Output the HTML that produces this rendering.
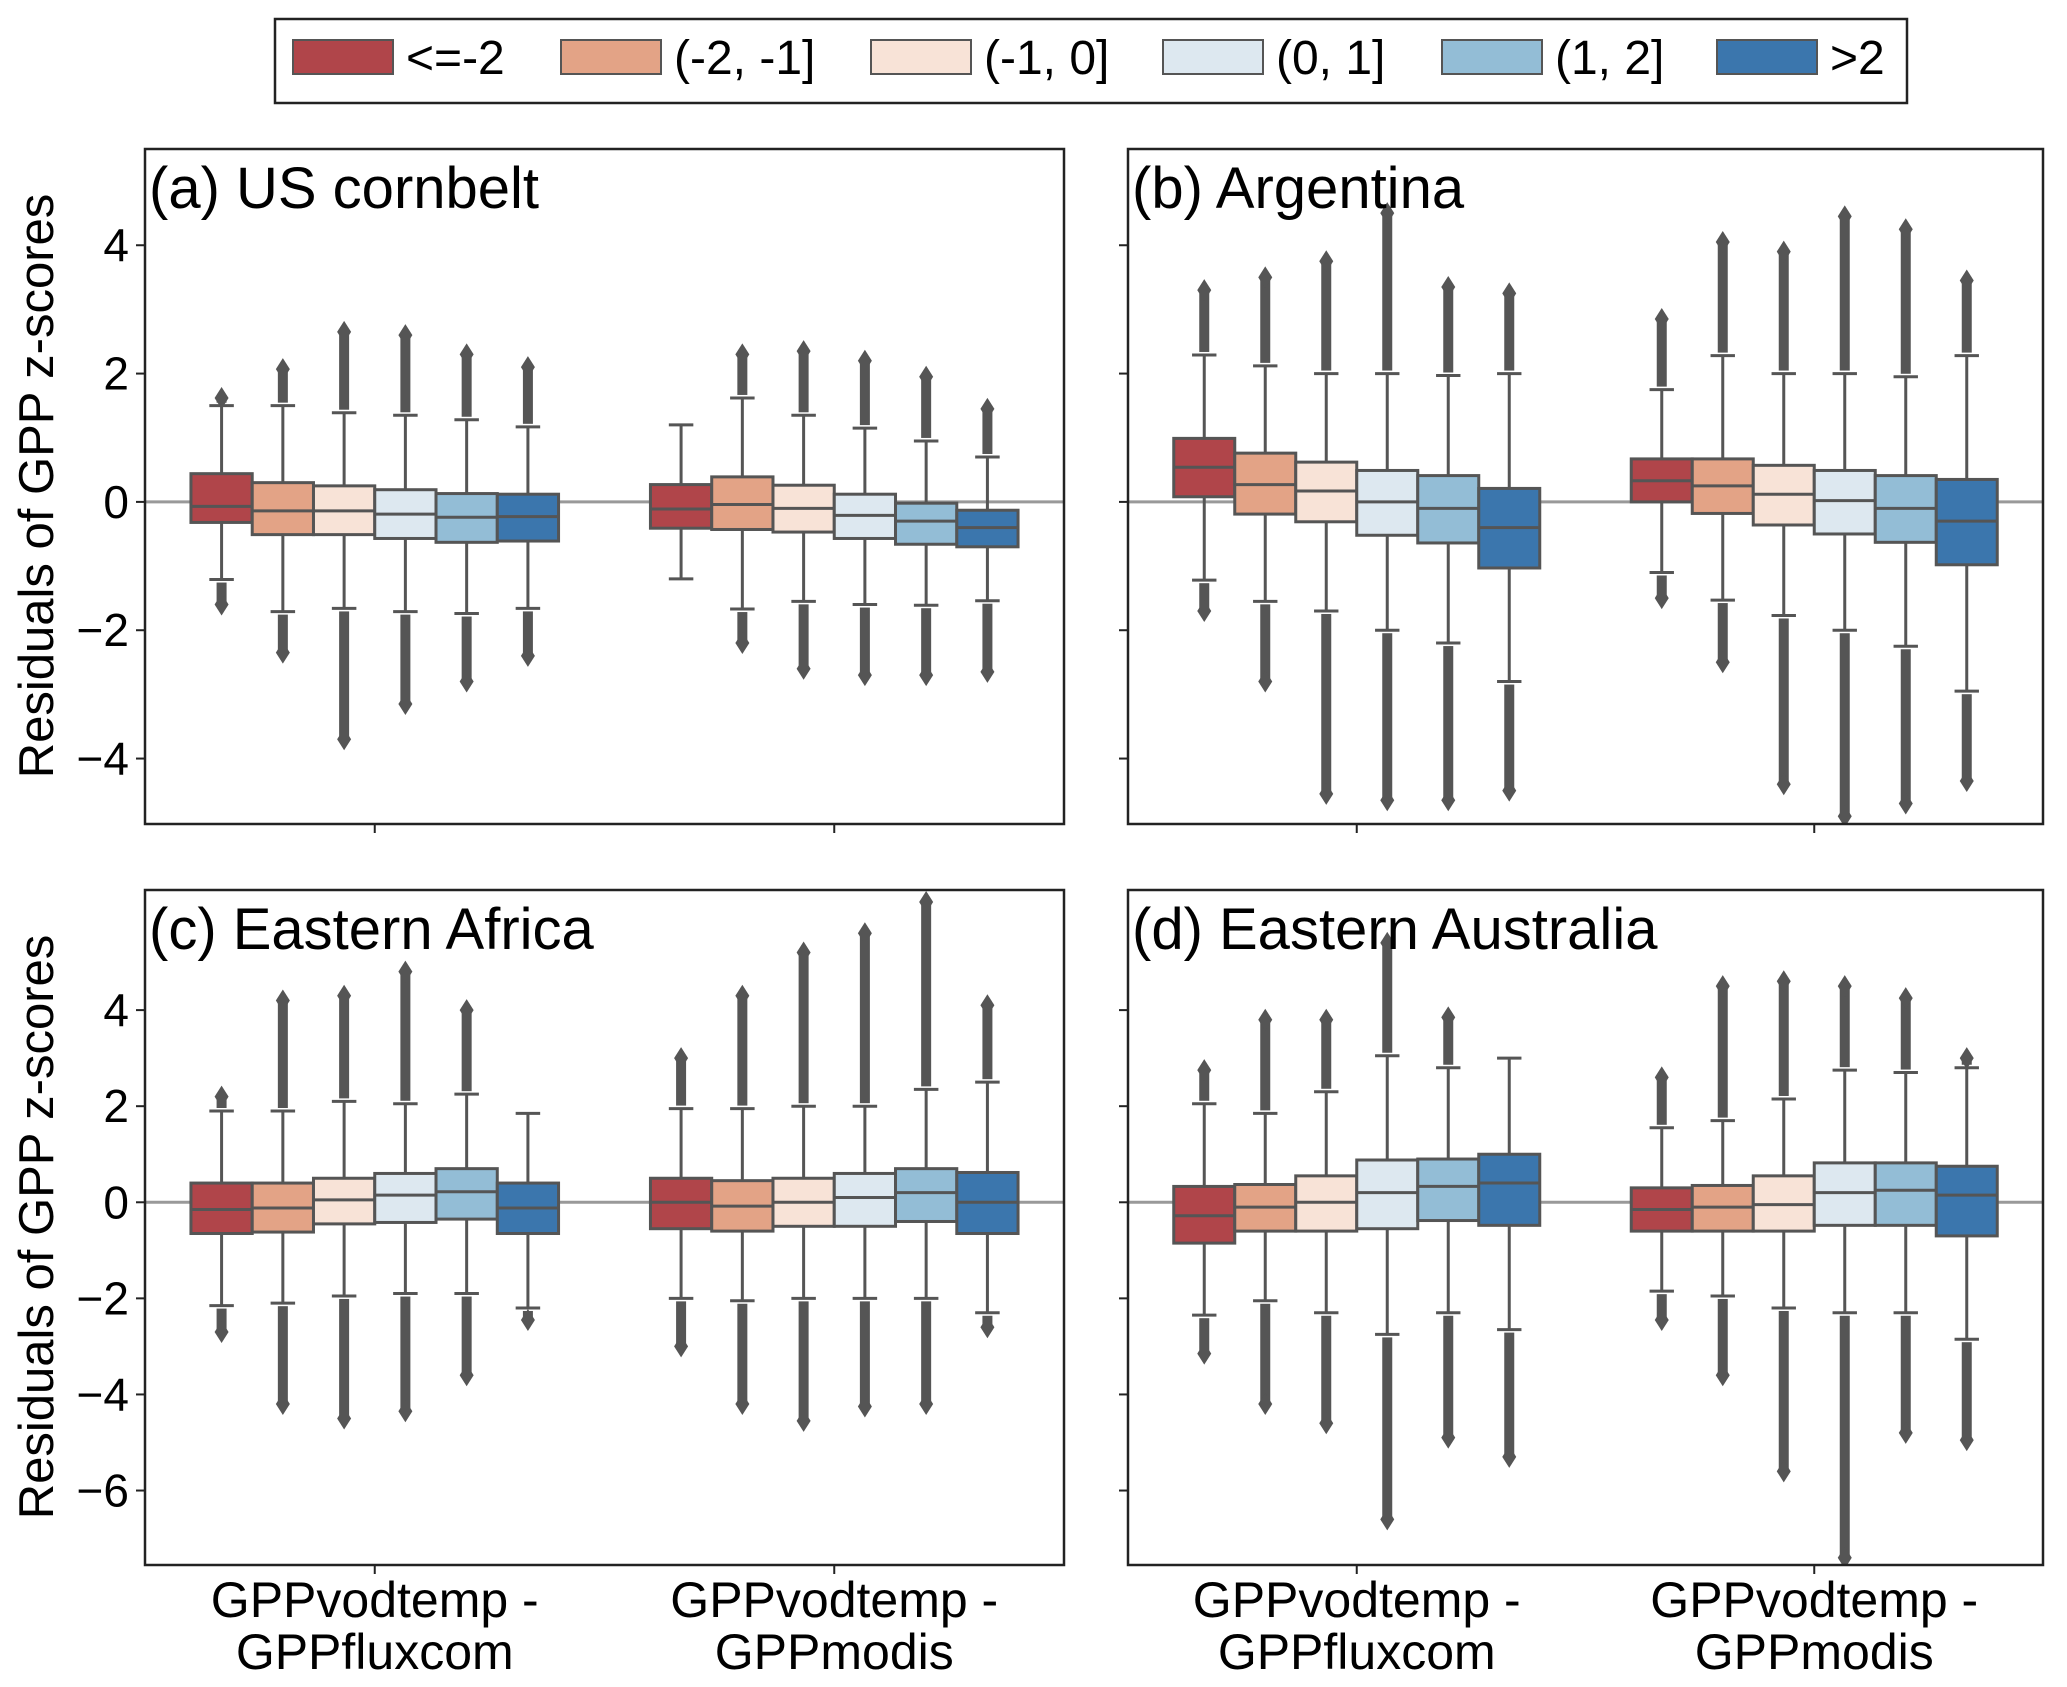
<!DOCTYPE html>
<html><head><meta charset="utf-8">
<style>
html,body{margin:0;padding:0;background:#fff;}
svg{display:block;font-family:"Liberation Sans",sans-serif;}
</style></head>
<body>
<svg id="chart" width="2067" height="1687" viewBox="0 0 2067 1687" xmlns="http://www.w3.org/2000/svg">
<g id="legend">
<rect x="275" y="19" width="1632" height="84" fill="#fff" stroke="#222" stroke-width="2.5"/>
</g>
<g id="plots"></g>
<text transform="translate(37,486) rotate(-90)" text-anchor="middle" dominant-baseline="central" font-size="49">Residuals of GPP z-scores</text>
<text transform="translate(37,1227) rotate(-90)" text-anchor="middle" dominant-baseline="central" font-size="49">Residuals of GPP z-scores</text>
</svg>
<script>
const NS="http://www.w3.org/2000/svg";
const categories=["GPPvodtemp -\nGPPfluxcom","GPPvodtemp -\nGPPmodis"];
const bins=["<=-2","(-2, -1]","(-1, 0]","(0, 1]","(1, 2]",">2"];
const colors=["#b0454a","#e3a386","#f8e3d7","#dde8f0","#93bdd6","#3b76ad"];
const legendX=[293,561,871,1163,1442,1717];
// per box: [q1, median, q3, whiskerLow, whiskerHigh, outlierLow, outlierHigh] (null = none)
const dataA=[
 [[-0.32,-0.07,0.44,-1.21,1.5,-1.6,1.62],[-0.51,-0.14,0.3,-1.71,1.5,-2.35,2.07],[-0.51,-0.14,0.25,-1.66,1.39,-3.7,2.65],[-0.57,-0.19,0.19,-1.71,1.35,-3.15,2.6],[-0.63,-0.24,0.13,-1.74,1.28,-2.8,2.3],[-0.61,-0.23,0.12,-1.66,1.17,-2.4,2.1]],
 [[-0.41,-0.11,0.27,-1.2,1.2,null,null],[-0.43,-0.04,0.39,-1.67,1.62,-2.2,2.3],[-0.47,-0.1,0.26,-1.55,1.35,-2.6,2.35],[-0.57,-0.21,0.12,-1.6,1.15,-2.7,2.2],[-0.66,-0.3,-0.02,-1.61,0.95,-2.7,1.95],[-0.7,-0.4,-0.13,-1.54,0.7,-2.65,1.45]]];
const dataB=[
 [[0.08,0.54,0.99,-1.22,2.29,-1.7,3.3],[-0.19,0.27,0.76,-1.55,2.12,-2.8,3.5],[-0.31,0.17,0.62,-1.7,2.0,-4.55,3.75],[-0.52,0.0,0.49,-2.0,2.0,-4.65,4.5],[-0.64,-0.1,0.41,-2.2,1.97,-4.65,3.35],[-1.03,-0.4,0.21,-2.8,2.0,-4.5,3.25]],
 [[0.0,0.33,0.67,-1.1,1.75,-1.5,2.85],[-0.18,0.25,0.67,-1.53,2.28,-2.5,4.05],[-0.36,0.12,0.57,-1.77,2.0,-4.4,3.9],[-0.5,0.02,0.49,-2.0,2.0,-4.9,4.45],[-0.63,-0.1,0.41,-2.25,1.95,-4.7,4.25],[-0.98,-0.3,0.35,-2.95,2.28,-4.35,3.45]]];
const dataC=[
 [[-0.65,-0.15,0.4,-2.15,1.9,-2.7,2.2],[-0.62,-0.12,0.4,-2.1,1.9,-4.2,4.2],[-0.45,0.05,0.5,-1.95,2.1,-4.5,4.3],[-0.42,0.15,0.6,-1.9,2.05,-4.35,4.8],[-0.35,0.22,0.7,-1.9,2.25,-3.6,4.0],[-0.65,-0.12,0.4,-2.2,1.85,-2.45,null]],
 [[-0.55,0.0,0.5,-2.0,1.95,-3.0,3.0],[-0.6,-0.08,0.45,-2.05,1.95,-4.2,4.3],[-0.5,0.0,0.5,-2.0,2.0,-4.55,5.2],[-0.5,0.1,0.6,-2.0,2.0,-4.25,5.6],[-0.4,0.2,0.7,-2.0,2.35,-4.2,6.25],[-0.65,0.0,0.62,-2.3,2.5,-2.6,4.1]]];
const dataD=[
 [[-0.85,-0.28,0.33,-2.35,2.05,-3.15,2.75],[-0.6,-0.1,0.37,-2.05,1.85,-4.2,3.8],[-0.6,0.0,0.55,-2.3,2.3,-4.6,3.8],[-0.55,0.2,0.88,-2.75,3.05,-6.6,5.4],[-0.38,0.33,0.9,-2.3,2.8,-4.9,3.85],[-0.48,0.4,1.0,-2.65,3.0,-5.3,null]],
 [[-0.6,-0.15,0.3,-1.85,1.55,-2.45,2.6],[-0.6,-0.1,0.35,-1.95,1.7,-3.6,4.5],[-0.6,-0.05,0.55,-2.2,2.15,-5.6,4.6],[-0.48,0.2,0.82,-2.3,2.75,-7.4,4.5],[-0.48,0.25,0.82,-2.3,2.7,-4.8,4.25],[-0.7,0.15,0.75,-2.85,2.8,-4.95,3.0]]];
const ticksTop=[-4,-2,0,2,4];
const ticksBottom=[-6,-4,-2,0,2,4];
const panels=[
 {name:"panel-a",title:"(a) US cornbelt",x0:145,x1:1064,y0:149,y1:824,ymin:-5.02,ymax:5.5,ticks:ticksTop,labels:true,xl:false,data:dataA},
 {name:"panel-b",title:"(b) Argentina",x0:1128,x1:2043,y0:149,y1:824,ymin:-5.02,ymax:5.5,ticks:ticksTop,labels:false,xl:false,data:dataB},
 {name:"panel-c",title:"(c) Eastern Africa",x0:145,x1:1064,y0:890,y1:1565,ymin:-7.55,ymax:6.5,ticks:ticksBottom,labels:true,xl:true,data:dataC},
 {name:"panel-d",title:"(d) Eastern Australia",x0:1128,x1:2043,y0:890,y1:1565,ymin:-7.55,ymax:6.5,ticks:ticksBottom,labels:false,xl:true,data:dataD}];
function mk(tag,attrs,parent){const e=document.createElementNS(NS,tag);for(const k in attrs)e.setAttribute(k,attrs[k]);parent.appendChild(e);return e;}
const lg=document.getElementById('legend');
bins.forEach((b,i)=>{
 const r=mk('rect',{x:legendX[i],y:40,width:100,height:34,fill:colors[i],stroke:'#555','stroke-width':2},lg);
 
 
 const t=mk('text',{x:legendX[i]+113,y:74,'font-size':48},lg);t.textContent=b;
 
 
});
const root=document.getElementById('plots');
panels.forEach(p=>{
 const g=mk('g',{},root);
 
 
 const Y=v=>p.y1-(v-p.ymin)/(p.ymax-p.ymin)*(p.y1-p.y0);
 const X=v=>p.x0+(v+0.5)/2*(p.x1-p.x0);
 const band=(p.x1-p.x0)/2, bw=band*0.8/6;
 const cid='clip-'+p.name;
 const cp=mk('clipPath',{id:cid},g);mk('rect',{x:p.x0,y:p.y0,width:p.x1-p.x0,height:p.y1-p.y0},cp);
 const inner=mk('g',{'clip-path':'url(#'+cid+')'},g);
 const zl=mk('line',{x1:p.x0,x2:p.x1,y1:Y(0),y2:Y(0),stroke:'#999','stroke-width':3},inner);
 
 
 p.data.forEach((grp,gi)=>{
  grp.forEach((d,bi)=>{
   const cx=X(gi)-band*0.4+bw*(bi+0.5);
   const bg=mk('g',{},inner);
   
   
   const [q1,md,q3,wl,wh,ol,oh]=d;
   const st={stroke:'#555','stroke-width':3};
   const dia=(v)=>mk('path',{d:`M${cx} ${Y(v)-11}L${cx+7} ${Y(v)}L${cx} ${Y(v)+11}L${cx-7} ${Y(v)}Z`,fill:'#555'},bg);
   if(oh!==null){mk('rect',{x:cx-5,y:Y(oh),width:10,height:Math.max(0,Y(wh)-Y(oh)-3),fill:'#555'},bg);dia(oh);}
   if(ol!==null){const top=Y(wl)+3;mk('rect',{x:cx-5,y:top,width:10,height:Math.max(0,Y(ol)-top),fill:'#555'},bg);dia(ol);}
   mk('line',Object.assign({x1:cx,x2:cx,y1:Y(wh),y2:Y(wl)},st),bg);
   mk('line',Object.assign({x1:cx-bw*0.2,x2:cx+bw*0.2,y1:Y(wh),y2:Y(wh)},st),bg);
   mk('line',Object.assign({x1:cx-bw*0.2,x2:cx+bw*0.2,y1:Y(wl),y2:Y(wl)},st),bg);
   mk('rect',Object.assign({x:cx-bw/2,y:Y(q3),width:bw,height:Y(q1)-Y(q3),fill:colors[bi]},st),bg);
   mk('line',Object.assign({x1:cx-bw/2,x2:cx+bw/2,y1:Y(md),y2:Y(md)},st),bg);
  });
 });
 const fr=mk('rect',{x:p.x0,y:p.y0,width:p.x1-p.x0,height:p.y1-p.y0,fill:'none',stroke:'#222','stroke-width':2.5},g);
 
 
 p.ticks.forEach(t=>{
  mk('line',{x1:p.x0-9,x2:p.x0,y1:Y(t),y2:Y(t),stroke:'#222','stroke-width':2},g);
  if(p.labels){const tx=mk('text',{x:p.x0-16,y:Y(t),'text-anchor':'end','dominant-baseline':'central','font-size':46},g);
   tx.textContent=(t<0?'\u2212':'')+Math.abs(t);
   
   }
 });
 categories.forEach((c,ci)=>{
  mk('line',{x1:X(ci),x2:X(ci),y1:p.y1,y2:p.y1+9,stroke:'#222','stroke-width':2},g);
  if(p.xl){c.split('\n').forEach((ln,li)=>{
   const tx=mk('text',{x:X(ci),y:1617+li*52,'text-anchor':'middle','font-size':50},g);tx.textContent=ln;
   
   });}
 });
 const tt=mk('text',{x:p.x0+4,y:p.y0+59,'font-size':58},g);tt.textContent=p.title;
 
 
});
</script>
</body></html>
